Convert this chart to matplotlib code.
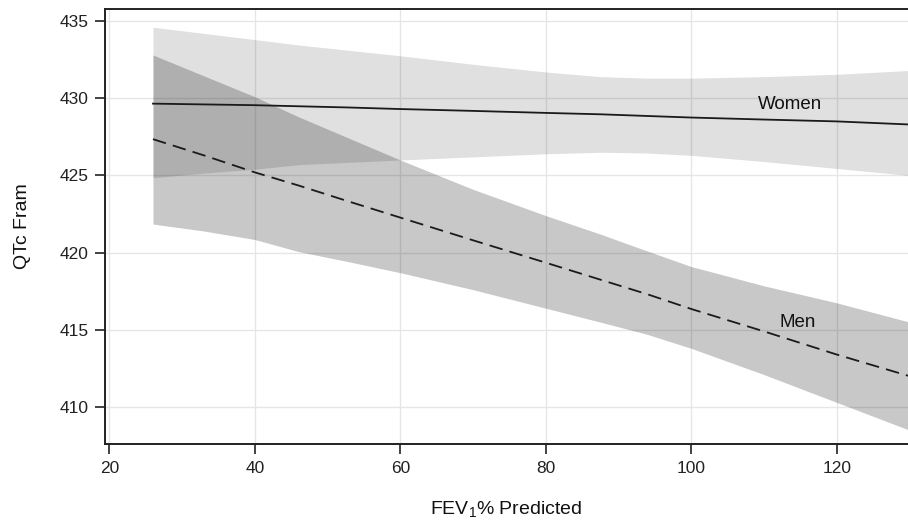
import matplotlib
matplotlib.use("Agg")
import matplotlib.pyplot as plt
import numpy as np

matplotlib.rcParams.update({
    "font.family": ["Liberation Sans", "DejaVu Sans"],
    "mathtext.default": "regular",
})

# FEV1 % predicted (x) and fitted QTc with confidence limits
fev = [26, 33, 40, 46, 53, 60, 70, 80, 87.5, 94, 100, 110, 120, 130]

women_fit   = [429.65, 429.6, 429.55, 429.48, 429.4, 429.3, 429.18, 429.05, 428.96,
               428.85, 428.75, 428.62, 428.5, 428.3]
women_lower = [424.85, 425.15, 425.4, 425.7, 425.85, 426.0, 426.2, 426.4, 426.5,
               426.45, 426.3, 425.9, 425.45, 425.0]
women_upper = [434.6, 434.2, 433.8, 433.45, 433.1, 432.75, 432.2, 431.7, 431.4,
               431.3, 431.3, 431.4, 431.55, 431.8]

men_fit   = [427.35, 426.3, 425.2, 424.35, 423.3, 422.27, 420.8, 419.35, 418.25,
             417.3, 416.35, 414.9, 413.4, 412.0]
men_lower = [421.85, 421.4, 420.85, 420.07, 419.4, 418.7, 417.6, 416.4, 415.5,
             414.7, 413.8, 412.1, 410.3, 408.5]
men_upper = [432.8, 431.45, 430.1, 428.8, 427.4, 426.0, 424.1, 422.4, 421.2,
             420.1, 419.1, 417.85, 416.75, 415.5]

x_ticks = [20, 40, 60, 80, 100, 120]
y_ticks = [410, 415, 420, 425, 430, 435]

fig = plt.figure(figsize=(9.08, 5.20), dpi=100)
ax = fig.add_axes([0.1156, 0.146, 0.8844, 0.8367])

ax.grid(True, color="#e6e6e6", linewidth=1.0, zorder=0)
ax.set_axisbelow(True)

# bands: women light, men darker, overlap darker still
ax.fill_between(fev, women_lower, women_upper, color="black", alpha=0.12,
                linewidth=0, zorder=1)
ax.fill_between(fev, men_lower, men_upper, color="black", alpha=0.215,
                linewidth=0, zorder=2)

ax.plot(fev, women_fit, color="#1a1a1a", linewidth=1.3, zorder=3)
ax.plot(fev, men_fit, color="#1a1a1a", linewidth=1.3, dashes=(7.5, 4), zorder=3)

ax.text(113.6, 429.6, "Women", fontsize=13.5, ha="center", va="center", color="#111111")
ax.text(114.6, 415.5, "Men", fontsize=13.5, ha="center", va="center", color="#111111")

ax.set_xlim(19.4, 129.8)
ax.set_ylim(407.6, 435.78)
ax.set_xticks(x_ticks)
ax.set_yticks(y_ticks)
ax.tick_params(direction="out", length=7, width=1.2, labelsize=12.5,
               color="#222222", labelcolor="#222222", pad=5)

for side in ["left", "bottom", "top"]:
    ax.spines[side].set_linewidth(1.4)
    ax.spines[side].set_color("#222222")
ax.spines["right"].set_visible(False)

ax.set_xlabel("FEV$_1$% Predicted", fontsize=14, color="#111111", labelpad=17)
ax.set_ylabel("QTc Fram", fontsize=14, color="#111111", labelpad=20)

fig.savefig("out.png", dpi=100)
